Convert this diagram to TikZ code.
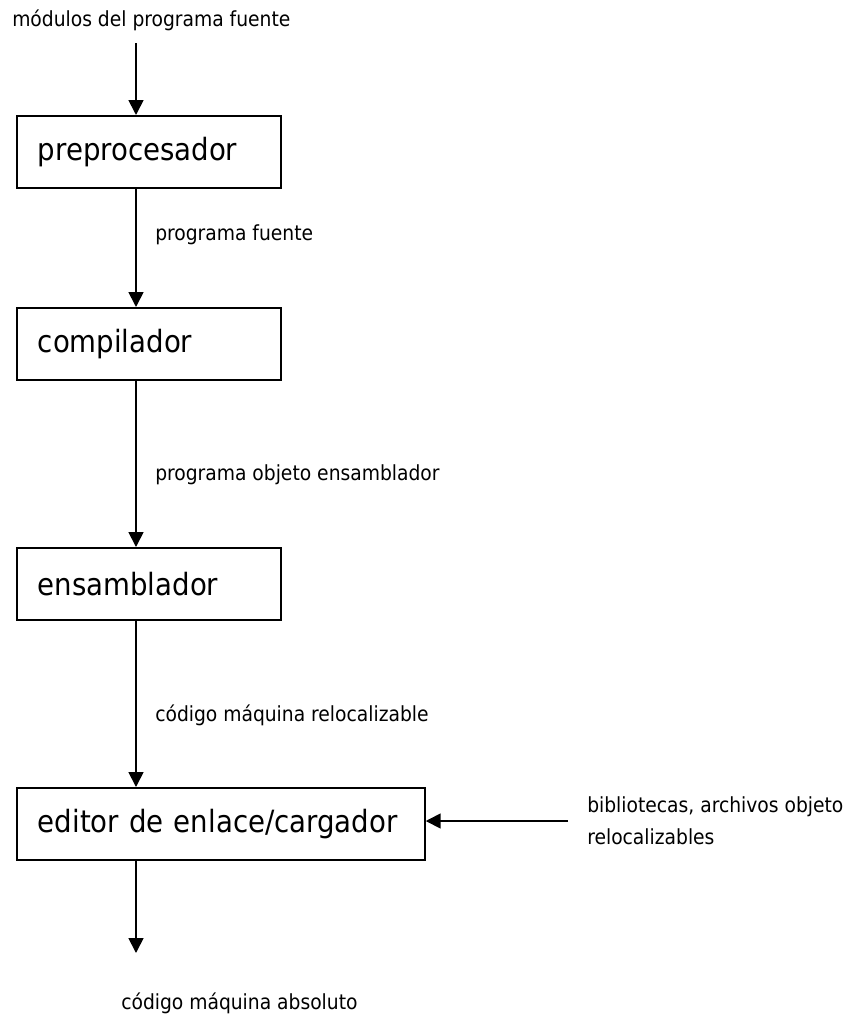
\documentclass[tikz,border=0pt]{standalone}
\usepackage{fontspec}
\setmainfont{DejaVu Sans Condensed}
\usetikzlibrary{arrows.meta}

\begin{document}
\begin{tikzpicture}[
  x=0.75pt, y=-0.75pt,
  stage/.style={draw, line width=1.3pt, anchor=north west, inner xsep=15.75pt,
    text width=166.5pt, align=left, minimum height=54pt, font=\fontsize{23}{26}\selectfont},
  note/.style={anchor=west, inner sep=0pt, align=left, font=\fontsize{15.6}{24}\selectfont},
  flow/.style={draw, line width=1.3pt, -{Triangle[width=11.25pt, length=11.25pt]}}
  ]
	\useasboundingbox (0,0) rectangle (849,1017);
	\coordinate (spine) at (136,0);

	\node[note] (src) at (12,20) {módulos del programa fuente};

	\node[stage] (pre) at (16,115) {preprocesador};
	\node[stage] (comp) at (16,307) {compilador};
	\node[stage] (asm) at (16,547) {ensamblador};
	\node[stage, text width=274.5pt] (link) at (16,787) {editor de enlace/cargador};

	\node[note] (fuente) at (155,235) {programa fuente};
	\node[note] (objeto) at (155,475) {programa objeto ensamblador};
	\node[note] (reloc) at (155,715) {código máquina relocalizable};
	\node[note] (libs) at (587,821) {bibliotecas, archivos objeto\\relocalizables};
	\node[note] (abs) at (121,1003) {código máquina absoluto};

	\coordinate (libs_in) at (568,821);
	\coordinate (abs_out) at (136,953);

	\draw[flow] (spine |- 0,43) -- (pre.north -| spine);
	\draw[flow] (pre.south -| spine) -- (comp.north -| spine);
	\draw[flow] (comp.south -| spine) -- (asm.north -| spine);
	\draw[flow] (asm.south -| spine) -- (link.north -| spine);
	\draw[flow] (libs_in) -- (libs_in -| link.east);
	\draw[flow] (link.south -| spine) -- (abs_out);
\end{tikzpicture}
\end{document}
